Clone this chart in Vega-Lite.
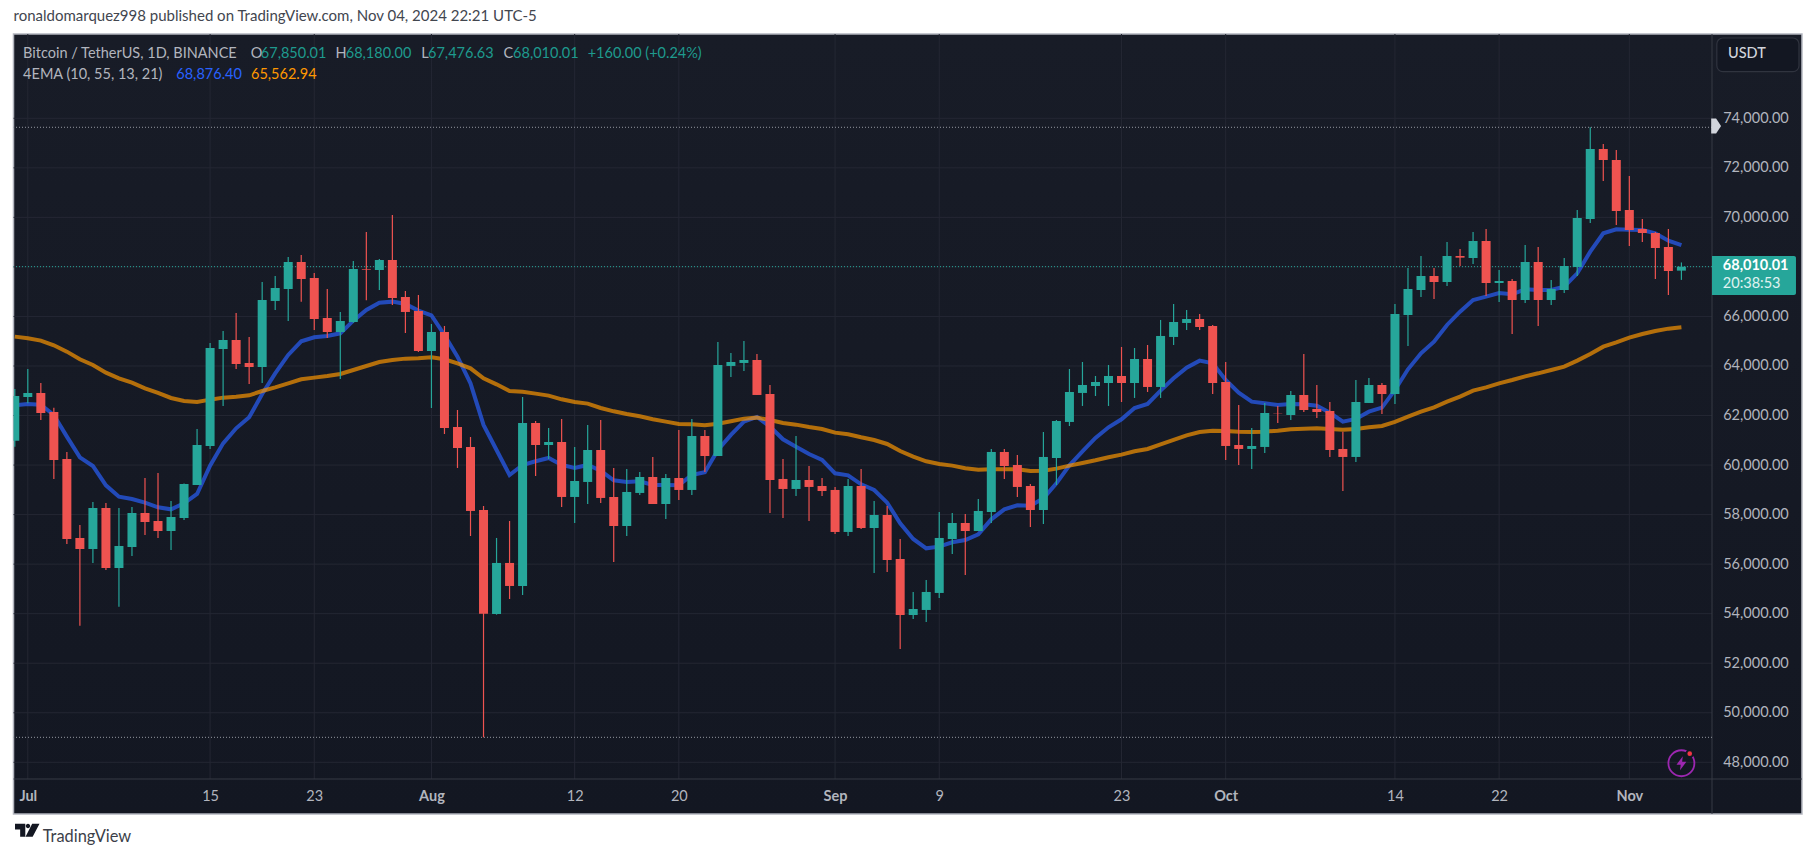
{
  "$schema": "https://vega.github.io/schema/vega-lite/v6.json",
  "width": 1698.5,
  "height": 745,
  "autosize": "none",
  "padding": {"left": 13.5, "top": 34, "right": 103, "bottom": 79},
  "background": "#ffffff",
  "config": {"view": {"stroke": null}, "text": {"font": "Lato"}},
  "title": {"text": "ronaldomarquez998 published on TradingView.com, Nov 04, 2024 22:21 UTC-5", "anchor": "start", "frame": "group", "offset": 9, "font": "Lato", "fontSize": 15, "fontWeight": "normal", "color": "#42464f"},
  "datasets": {
    "candles": [
      {"date":"2024-06-30","open":60986,"high":63072,"low":60744,"close":62789,"ema10":62413,"ema55":65185},
      {"date":"2024-07-01","open":62749,"high":63879,"low":62493,"close":62910,"ema10":62466,"ema55":65117},
      {"date":"2024-07-02","open":62910,"high":63314,"low":61820,"close":62103,"ema10":62440,"ema55":65023},
      {"date":"2024-07-03","open":62143,"high":62318,"low":59439,"close":60206,"ema10":62022,"ema55":64835},
      {"date":"2024-07-04","open":60246,"high":60529,"low":56814,"close":57016,"ema10":61148,"ema55":64579},
      {"date":"2024-07-05","open":57057,"high":57581,"low":53517,"close":56613,"ema10":60313,"ema55":64270},
      {"date":"2024-07-06","open":56613,"high":58510,"low":56047,"close":58268,"ema10":59963,"ema55":64041},
      {"date":"2024-07-07","open":58268,"high":58470,"low":55765,"close":55846,"ema10":59183,"ema55":63731},
      {"date":"2024-07-08","open":55846,"high":58268,"low":54284,"close":56734,"ema10":58725,"ema55":63503},
      {"date":"2024-07-09","open":56693,"high":58308,"low":56330,"close":58066,"ema10":58631,"ema55":63328},
      {"date":"2024-07-10","open":58066,"high":59479,"low":57178,"close":57703,"ema10":58483,"ema55":63099},
      {"date":"2024-07-11","open":57743,"high":59681,"low":57057,"close":57339,"ema10":58295,"ema55":62911},
      {"date":"2024-07-12","open":57339,"high":58550,"low":56572,"close":57904,"ema10":58214,"ema55":62709},
      {"date":"2024-07-13","open":57864,"high":59260,"low":57783,"close":59237,"ema10":58456,"ema55":62588},
      {"date":"2024-07-14","open":59196,"high":61457,"low":59196,"close":60811,"ema10":58833,"ema55":62547},
      {"date":"2024-07-15","open":60771,"high":64929,"low":60650,"close":64727,"ema10":59977,"ema55":62641},
      {"date":"2024-07-16","open":64687,"high":65414,"low":62386,"close":65050,"ema10":60878,"ema55":62722},
      {"date":"2024-07-17","open":65050,"high":66140,"low":63879,"close":64081,"ema10":61484,"ema55":62762},
      {"date":"2024-07-18","open":64122,"high":65171,"low":63274,"close":63960,"ema10":61928,"ema55":62816},
      {"date":"2024-07-19","open":63960,"high":67392,"low":63314,"close":66665,"ema10":62870,"ema55":62991},
      {"date":"2024-07-20","open":66625,"high":67634,"low":66261,"close":67149,"ema10":63704,"ema55":63139},
      {"date":"2024-07-21","open":67109,"high":68401,"low":65817,"close":68199,"ema10":64445,"ema55":63301},
      {"date":"2024-07-22","open":68199,"high":68481,"low":66598,"close":67512,"ema10":64996,"ema55":63462},
      {"date":"2024-07-23","open":67553,"high":67755,"low":65454,"close":65898,"ema10":65158,"ema55":63530},
      {"date":"2024-07-24","open":65938,"high":67109,"low":65131,"close":65373,"ema10":65212,"ema55":63597},
      {"date":"2024-07-25","open":65373,"high":66181,"low":63476,"close":65817,"ema10":65319,"ema55":63678},
      {"date":"2024-07-26","open":65777,"high":68239,"low":65750,"close":67916,"ema10":65831,"ema55":63839},
      {"date":"2024-07-27","open":67916,"high":69410,"low":66650,"close":67890,"ema10":66261,"ema55":64001},
      {"date":"2024-07-28","open":67876,"high":68320,"low":67068,"close":68280,"ema10":66557,"ema55":64162},
      {"date":"2024-07-29","open":68280,"high":70096,"low":66463,"close":66745,"ema10":66598,"ema55":64243},
      {"date":"2024-07-30","open":66786,"high":67028,"low":65333,"close":66181,"ema10":66504,"ema55":64297},
      {"date":"2024-07-31","open":66221,"high":66867,"low":64566,"close":64606,"ema10":66234,"ema55":64310},
      {"date":"2024-08-01","open":64606,"high":65696,"low":62305,"close":65373,"ema10":66046,"ema55":64350},
      {"date":"2024-08-02","open":65373,"high":65615,"low":61255,"close":61497,"ema10":65252,"ema55":64270},
      {"date":"2024-08-03","open":61538,"high":62224,"low":59883,"close":60690,"ema10":64377,"ema55":64108},
      {"date":"2024-08-04","open":60730,"high":61134,"low":57137,"close":58147,"ema10":63301,"ema55":63906},
      {"date":"2024-08-05","open":58187,"high":58348,"low":49009,"close":53998,"ema10":61619,"ema55":63503},
      {"date":"2024-08-06","open":53988,"high":57057,"low":53960,"close":56048,"ema10":60609,"ema55":63260},
      {"date":"2024-08-07","open":56048,"high":57743,"low":54594,"close":55119,"ema10":59600,"ema55":62991},
      {"date":"2024-08-08","open":55119,"high":62749,"low":54755,"close":61699,"ema10":60004,"ema55":62964},
      {"date":"2024-08-09","open":61699,"high":61780,"low":59560,"close":60811,"ema10":60152,"ema55":62884},
      {"date":"2024-08-10","open":60811,"high":61497,"low":60246,"close":60932,"ema10":60286,"ema55":62803},
      {"date":"2024-08-11","open":60932,"high":61861,"low":58308,"close":58712,"ema10":60004,"ema55":62655},
      {"date":"2024-08-12","open":58712,"high":60730,"low":57662,"close":59358,"ema10":59883,"ema55":62547},
      {"date":"2024-08-13","open":59318,"high":61618,"low":58430,"close":60609,"ema10":60004,"ema55":62480},
      {"date":"2024-08-14","open":60609,"high":61820,"low":58470,"close":58672,"ema10":59775,"ema55":62305},
      {"date":"2024-08-15","open":58712,"high":59883,"low":56088,"close":57541,"ema10":59385,"ema55":62170},
      {"date":"2024-08-16","open":57541,"high":59842,"low":57137,"close":58914,"ema10":59318,"ema55":62063},
      {"date":"2024-08-17","open":58874,"high":59721,"low":58793,"close":59519,"ema10":59344,"ema55":61969},
      {"date":"2024-08-18","open":59519,"high":60327,"low":58429,"close":58429,"ema10":59196,"ema55":61847},
      {"date":"2024-08-19","open":58429,"high":59641,"low":57824,"close":59479,"ema10":59196,"ema55":61753},
      {"date":"2024-08-20","open":59479,"high":61417,"low":58591,"close":58995,"ema10":59183,"ema55":61659},
      {"date":"2024-08-21","open":58995,"high":61861,"low":58793,"close":61174,"ema10":59600,"ema55":61646},
      {"date":"2024-08-22","open":61174,"high":61417,"low":59721,"close":60367,"ema10":59708,"ema55":61605},
      {"date":"2024-08-23","open":60367,"high":64969,"low":60367,"close":64041,"ema10":60609,"ema55":61672},
      {"date":"2024-08-24","open":64001,"high":64525,"low":63556,"close":64162,"ema10":61215,"ema55":61767},
      {"date":"2024-08-25","open":64122,"high":65010,"low":63799,"close":64243,"ema10":61753,"ema55":61874},
      {"date":"2024-08-26","open":64243,"high":64485,"low":62830,"close":62830,"ema10":61942,"ema55":61915},
      {"date":"2024-08-27","open":62870,"high":63233,"low":58066,"close":59398,"ema10":61551,"ema55":61820},
      {"date":"2024-08-28","open":59439,"high":60246,"low":57864,"close":59035,"ema10":61040,"ema55":61699},
      {"date":"2024-08-29","open":59035,"high":61174,"low":58752,"close":59398,"ema10":60744,"ema55":61632},
      {"date":"2024-08-30","open":59398,"high":59963,"low":57743,"close":59116,"ema10":60448,"ema55":61538},
      {"date":"2024-08-31","open":59156,"high":59479,"low":58752,"close":58954,"ema10":60206,"ema55":61457},
      {"date":"2024-09-01","open":58995,"high":59116,"low":57218,"close":57299,"ema10":59667,"ema55":61309},
      {"date":"2024-09-02","open":57299,"high":59439,"low":57137,"close":59156,"ema10":59587,"ema55":61242},
      {"date":"2024-09-03","open":59156,"high":59842,"low":57420,"close":57460,"ema10":59223,"ema55":61121},
      {"date":"2024-09-04","open":57460,"high":58550,"low":55644,"close":57985,"ema10":58995,"ema55":61013},
      {"date":"2024-09-05","open":57985,"high":58348,"low":55684,"close":56168,"ema10":58483,"ema55":60852},
      {"date":"2024-09-06","open":56209,"high":57017,"low":52576,"close":53948,"ema10":57649,"ema55":60569},
      {"date":"2024-09-07","open":53948,"high":54877,"low":53787,"close":54190,"ema10":57016,"ema55":60340},
      {"date":"2024-09-08","open":54150,"high":55361,"low":53666,"close":54877,"ema10":56640,"ema55":60152},
      {"date":"2024-09-09","open":54837,"high":58107,"low":54635,"close":57057,"ema10":56707,"ema55":60044},
      {"date":"2024-09-10","open":57016,"high":58066,"low":56410,"close":57662,"ema10":56882,"ema55":59977},
      {"date":"2024-09-11","open":57662,"high":58026,"low":55563,"close":57339,"ema10":56976,"ema55":59869},
      {"date":"2024-09-12","open":57339,"high":58631,"low":57339,"close":58147,"ema10":57205,"ema55":59815},
      {"date":"2024-09-13","open":58106,"high":60650,"low":57662,"close":60529,"ema10":57810,"ema55":59829},
      {"date":"2024-09-14","open":60529,"high":60650,"low":59439,"close":59963,"ema10":58214,"ema55":59829},
      {"date":"2024-09-15","open":60004,"high":60407,"low":58712,"close":59116,"ema10":58375,"ema55":59829},
      {"date":"2024-09-16","open":59156,"high":59237,"low":57501,"close":58187,"ema10":58362,"ema55":59762},
      {"date":"2024-09-17","open":58187,"high":61336,"low":57622,"close":60327,"ema10":58658,"ema55":59775},
      {"date":"2024-09-18","open":60286,"high":61820,"low":59196,"close":61780,"ema10":59264,"ema55":59856},
      {"date":"2024-09-19","open":61740,"high":63879,"low":61578,"close":62951,"ema10":59990,"ema55":59977},
      {"date":"2024-09-20","open":62911,"high":64162,"low":62386,"close":63233,"ema10":60556,"ema55":60085},
      {"date":"2024-09-21","open":63193,"high":63597,"low":62789,"close":63354,"ema10":61094,"ema55":60192},
      {"date":"2024-09-22","open":63314,"high":64041,"low":62386,"close":63597,"ema10":61524,"ema55":60313},
      {"date":"2024-09-23","open":63597,"high":64768,"low":62547,"close":63314,"ema10":61847,"ema55":60421},
      {"date":"2024-09-24","open":63314,"high":64727,"low":62709,"close":64283,"ema10":62305,"ema55":60556},
      {"date":"2024-09-25","open":64283,"high":64848,"low":62951,"close":63153,"ema10":62466,"ema55":60650},
      {"date":"2024-09-26","open":63153,"high":65858,"low":62709,"close":65212,"ema10":63005,"ema55":60838},
      {"date":"2024-09-27","open":65172,"high":66504,"low":64848,"close":65777,"ema10":63503,"ema55":61013},
      {"date":"2024-09-28","open":65737,"high":66261,"low":65454,"close":65898,"ema10":63933,"ema55":61201},
      {"date":"2024-09-29","open":65898,"high":66100,"low":65454,"close":65575,"ema10":64216,"ema55":61336},
      {"date":"2024-09-30","open":65615,"high":65655,"low":62870,"close":63314,"ema10":64108,"ema55":61390},
      {"date":"2024-10-01","open":63354,"high":64162,"low":60206,"close":60771,"ema10":63435,"ema55":61376},
      {"date":"2024-10-02","open":60811,"high":62426,"low":60004,"close":60650,"ema10":62924,"ema55":61349},
      {"date":"2024-10-03","open":60650,"high":61497,"low":59842,"close":60771,"ema10":62561,"ema55":61336},
      {"date":"2024-10-04","open":60731,"high":62507,"low":60488,"close":62103,"ema10":62493,"ema55":61349},
      {"date":"2024-10-05","open":62103,"high":62386,"low":61699,"close":62090,"ema10":62426,"ema55":61390},
      {"date":"2024-10-06","open":62022,"high":62991,"low":61820,"close":62830,"ema10":62466,"ema55":61444},
      {"date":"2024-10-07","open":62830,"high":64485,"low":62143,"close":62224,"ema10":62453,"ema55":61471},
      {"date":"2024-10-08","open":62265,"high":63233,"low":61901,"close":62143,"ema10":62399,"ema55":61484},
      {"date":"2024-10-09","open":62184,"high":62547,"low":60327,"close":60609,"ema10":62117,"ema55":61457},
      {"date":"2024-10-10","open":60650,"high":61350,"low":58954,"close":60327,"ema10":61753,"ema55":61430},
      {"date":"2024-10-11","open":60327,"high":63435,"low":60125,"close":62547,"ema10":61861,"ema55":61457},
      {"date":"2024-10-12","open":62507,"high":63516,"low":62507,"close":63233,"ema10":62157,"ema55":61524},
      {"date":"2024-10-13","open":63233,"high":63314,"low":62063,"close":62870,"ema10":62318,"ema55":61578},
      {"date":"2024-10-14","open":62870,"high":66503,"low":62466,"close":66100,"ema10":63032,"ema55":61740},
      {"date":"2024-10-15","open":66059,"high":67957,"low":64808,"close":67109,"ema10":63866,"ema55":61955},
      {"date":"2024-10-16","open":67068,"high":68441,"low":66786,"close":67634,"ema10":64512,"ema55":62157},
      {"date":"2024-10-17","open":67634,"high":67957,"low":66705,"close":67391,"ema10":64983,"ema55":62332},
      {"date":"2024-10-18","open":67391,"high":69006,"low":67230,"close":68441,"ema10":65656,"ema55":62561},
      {"date":"2024-10-19","open":68441,"high":68724,"low":68037,"close":68374,"ema10":66194,"ema55":62762},
      {"date":"2024-10-20","open":68360,"high":69410,"low":68118,"close":69047,"ema10":66665,"ema55":63005},
      {"date":"2024-10-21","open":69047,"high":69531,"low":66826,"close":67351,"ema10":66800,"ema55":63139},
      {"date":"2024-10-22","open":67351,"high":67876,"low":66584,"close":67432,"ema10":66948,"ema55":63301},
      {"date":"2024-10-23","open":67432,"high":67512,"low":65292,"close":66665,"ema10":66894,"ema55":63435},
      {"date":"2024-10-24","open":66665,"high":68885,"low":66544,"close":68199,"ema10":67096,"ema55":63583},
      {"date":"2024-10-25","open":68199,"high":68804,"low":65615,"close":66665,"ema10":67069,"ema55":63704},
      {"date":"2024-10-26","open":66665,"high":67472,"low":66463,"close":67109,"ema10":67069,"ema55":63839},
      {"date":"2024-10-27","open":67068,"high":68360,"low":66947,"close":68037,"ema10":67203,"ema55":63974},
      {"date":"2024-10-28","open":67997,"high":70298,"low":67634,"close":69975,"ema10":67742,"ema55":64216},
      {"date":"2024-10-29","open":69935,"high":73636,"low":69773,"close":72761,"ema10":68616,"ema55":64485},
      {"date":"2024-10-30","open":72761,"high":72963,"low":71469,"close":72317,"ema10":69356,"ema55":64781},
      {"date":"2024-10-31","open":72317,"high":72720,"low":69693,"close":70258,"ema10":69518,"ema55":64956},
      {"date":"2024-11-01","open":70298,"high":71671,"low":68845,"close":69491,"ema10":69504,"ema55":65144},
      {"date":"2024-11-02","open":69531,"high":69935,"low":69006,"close":69370,"ema10":69491,"ema55":65292},
      {"date":"2024-11-03","open":69370,"high":69410,"low":67513,"close":68764,"ema10":69356,"ema55":65414},
      {"date":"2024-11-04","open":68804,"high":69531,"low":66867,"close":67835,"ema10":69060,"ema55":65508},
      {"date":"2024-11-05","open":67850,"high":68180,"low":67476,"close":68010,"ema10":68876,"ema55":65563}
    ],
    "frame": [
      {"left":"2024-06-29T21:38:00Z","plotRight":"2024-11-07T08:24:00Z","right":"2024-11-14T06:14:00Z","top":77403,"plotBottom":47326,"bottom":45915}
    ],
    "gridPrices": [
      {"price":48000},{"price":50000},{"price":52000},{"price":54000},{"price":56000},{"price":58000},{"price":60000},
      {"price":62000},{"price":64000},{"price":66000},{"price":68000},{"price":70000},{"price":72000},{"price":74000}
    ],
    "gridDates": [
      {"date":"2024-07-01"},{"date":"2024-07-15"},{"date":"2024-07-23"},{"date":"2024-08-01"},{"date":"2024-08-12"},
      {"date":"2024-08-20"},{"date":"2024-09-01"},{"date":"2024-09-09"},{"date":"2024-09-23"},{"date":"2024-10-01"},
      {"date":"2024-10-14"},{"date":"2024-10-22"},{"date":"2024-11-01"}
    ],
    "levels": [
      {"price":73637,"level":"high"},{"price":49009,"level":"low"},{"price":68010,"level":"last"}
    ],
    "headerText": [
      {"date":"2024-06-30T15:20:00Z","price":76596,"text":"Bitcoin / TetherUS, 1D, BINANCE","role":"label"},
      {"date":"2024-07-18T03:03:00Z","price":76596,"text":"O","role":"label"},
      {"date":"2024-07-18T21:30:00Z","price":76596,"text":"67,850.01","role":"up"},
      {"date":"2024-07-24T15:22:00Z","price":76596,"text":"H","role":"label"},
      {"date":"2024-07-25T10:00:00Z","price":76596,"text":"68,180.00","role":"up"},
      {"date":"2024-07-31T05:17:00Z","price":76596,"text":"L","role":"label"},
      {"date":"2024-07-31T17:45:00Z","price":76596,"text":"67,476.63","role":"up"},
      {"date":"2024-08-06T12:57:00Z","price":76596,"text":"C","role":"label"},
      {"date":"2024-08-07T06:29:00Z","price":76596,"text":"68,010.01","role":"up"},
      {"date":"2024-08-13T00:00:00Z","price":76596,"text":"+160.00 (+0.24%)","role":"up"},
      {"date":"2024-06-30T15:20:00Z","price":75748,"text":"4EMA (10, 55, 13, 21)","role":"label"},
      {"date":"2024-07-12T09:43:00Z","price":75748,"text":"68,876.40","role":"ema10"},
      {"date":"2024-07-18T03:23:00Z","price":75748,"text":"65,562.94","role":"ema55"}
    ]
  },
  "data": {"name": "candles"},
  "layer": [
    {
      "data": {"name": "frame"},
      "mark": {"type": "rect", "stroke": "#b2b5be", "strokeWidth": 1.5, "fill": {"gradient": "linear", "x1": 0, "y1": 0, "x2": 0, "y2": 1, "stops": [{"offset": 0, "color": "#181c27"}, {"offset": 1, "color": "#131722"}]}},
      "encoding": {
        "x": {"field": "left", "type": "temporal", "title": null, "scale": {"type": "utc", "padding": 0, "domain": ["2024-06-29T21:38:00Z", "2024-11-07T08:24:00Z"]}},
        "x2": {"field": "right"},
        "y": {"field": "top", "type": "quantitative", "title": null, "scale": {"domain": [47326, 77403], "nice": false, "zero": false}},
        "y2": {"field": "bottom"}
      }
    },
    {
      "data": {"name": "gridPrices"},
      "mark": {"type": "rule", "stroke": "#242733", "strokeWidth": 1},
      "encoding": {
        "y": {"field": "price", "type": "quantitative", "title": null, "scale": {"domain": [47326, 77403], "nice": false, "zero": false}}
      }
    },
    {
      "data": {"name": "gridDates"},
      "mark": {"type": "rule", "stroke": "#242733", "strokeWidth": 1},
      "encoding": {
        "x": {"field": "date", "type": "temporal", "title": null, "scale": {"type": "utc", "padding": 0, "domain": ["2024-06-29T21:38:00Z", "2024-11-07T08:24:00Z"]}}
      }
    },
    {
      "data": {"name": "frame"},
      "mark": {"type": "rule", "stroke": "#363a45", "strokeWidth": 1},
      "encoding": {
        "x": {"field": "plotRight", "type": "temporal", "title": null, "scale": {"type": "utc", "padding": 0, "domain": ["2024-06-29T21:38:00Z", "2024-11-07T08:24:00Z"]}},
        "y": {"field": "top", "type": "quantitative", "title": null, "scale": {"domain": [47326, 77403], "nice": false, "zero": false}},
        "y2": {"field": "bottom"}
      }
    },
    {
      "data": {"name": "frame"},
      "mark": {"type": "rule", "stroke": "#363a45", "strokeWidth": 1},
      "encoding": {
        "x": {"field": "left", "type": "temporal", "title": null, "scale": {"type": "utc", "padding": 0, "domain": ["2024-06-29T21:38:00Z", "2024-11-07T08:24:00Z"]}},
        "x2": {"field": "right"},
        "y": {"field": "plotBottom", "type": "quantitative", "title": null, "scale": {"domain": [47326, 77403], "nice": false, "zero": false}}
      }
    },
    {
      "data": {"name": "levels"},
      "mark": {"type": "rule", "strokeWidth": 1, "strokeDash": [1, 2]},
      "encoding": {
        "y": {"field": "price", "type": "quantitative", "title": null, "scale": {"domain": [47326, 77403], "nice": false, "zero": false}},
        "stroke": {"condition": {"test": "datum.level == 'last'", "value": "#26a69a"}, "value": "#9598a1"}
      }
    },
    {
      "mark": {"type": "line", "stroke": "#2962ff", "strokeWidth": 4, "opacity": 0.68, "clip": true},
      "encoding": {
        "x": {"field": "date", "type": "temporal", "title": null, "scale": {"type": "utc", "padding": 0, "domain": ["2024-06-29T21:38:00Z", "2024-11-07T08:24:00Z"]}},
        "y": {"field": "ema10", "type": "quantitative", "title": null, "scale": {"domain": [47326, 77403], "nice": false, "zero": false}}
      }
    },
    {
      "mark": {"type": "line", "stroke": "#ff9800", "strokeWidth": 4, "opacity": 0.68, "clip": true},
      "encoding": {
        "x": {"field": "date", "type": "temporal", "title": null, "scale": {"type": "utc", "padding": 0, "domain": ["2024-06-29T21:38:00Z", "2024-11-07T08:24:00Z"]}},
        "y": {"field": "ema55", "type": "quantitative", "title": null, "scale": {"domain": [47326, 77403], "nice": false, "zero": false}}
      }
    },
    {
      "mark": {"type": "rule", "strokeWidth": 1.2, "clip": true},
      "encoding": {
        "x": {"field": "date", "type": "temporal", "title": null, "scale": {"type": "utc", "padding": 0, "domain": ["2024-06-29T21:38:00Z", "2024-11-07T08:24:00Z"]}},
        "y": {"field": "low", "type": "quantitative", "title": null, "scale": {"domain": [47326, 77403], "nice": false, "zero": false}},
        "y2": {"field": "high"},
        "stroke": {"condition": {"test": "datum.open < datum.close", "value": "#26a69a"}, "value": "#ef5350"}
      }
    },
    {
      "mark": {"type": "bar", "size": 9, "clip": true},
      "encoding": {
        "x": {"field": "date", "type": "temporal", "title": null, "scale": {"type": "utc", "padding": 0, "domain": ["2024-06-29T21:38:00Z", "2024-11-07T08:24:00Z"]},
          "axis": {"orient": "bottom", "grid": false, "domain": false, "ticks": false, "zindex": 1, "labelPadding": 10, "labelFont": "Lato", "labelFontSize": 14.5, "labelColor": "#b2b5be", "labelOverlap": false, "labelFlush": false,
            "values": [{"year":2024,"month":7,"date":1,"utc":true},{"year":2024,"month":7,"date":15,"utc":true},{"year":2024,"month":7,"date":23,"utc":true},{"year":2024,"month":8,"date":1,"utc":true},{"year":2024,"month":8,"date":12,"utc":true},{"year":2024,"month":8,"date":20,"utc":true},{"year":2024,"month":9,"date":1,"utc":true},{"year":2024,"month":9,"date":9,"utc":true},{"year":2024,"month":9,"date":23,"utc":true},{"year":2024,"month":10,"date":1,"utc":true},{"year":2024,"month":10,"date":14,"utc":true},{"year":2024,"month":10,"date":22,"utc":true},{"year":2024,"month":11,"date":1,"utc":true}],
            "labelExpr": "utcdate(datum.value) == 1 ? utcFormat(datum.value, '%b') : utcFormat(datum.value, '%-d')",
            "labelFontWeight": {"condition": {"test": "utcdate(datum.value) == 1", "value": "bold"}, "value": "normal"}}},
        "y": {"field": "open", "type": "quantitative", "title": null, "scale": {"domain": [47326, 77403], "nice": false, "zero": false},
          "axis": {"orient": "right", "grid": false, "domain": false, "ticks": false, "zindex": 1, "labelPadding": 10.7, "labelFont": "Lato", "labelFontSize": 14.5, "labelColor": "#b2b5be", "format": ",.2f", "values": [48000, 50000, 52000, 54000, 56000, 58000, 60000, 62000, 64000, 66000, 70000, 72000, 74000]}},
        "y2": {"field": "close"},
        "fill": {"condition": {"test": "datum.open < datum.close", "value": "#26a69a"}, "value": "#ef5350"}
      }
    },
    {
      "data": {"name": "headerText"},
      "mark": {"type": "text", "align": "left", "baseline": "middle", "font": "Lato", "fontSize": 14.5},
      "encoding": {
        "x": {"field": "date", "type": "temporal", "title": null, "scale": {"type": "utc", "padding": 0, "domain": ["2024-06-29T21:38:00Z", "2024-11-07T08:24:00Z"]}},
        "y": {"field": "price", "type": "quantitative", "title": null, "scale": {"domain": [47326, 77403], "nice": false, "zero": false}},
        "text": {"field": "text"},
        "color": {"field": "role", "type": "nominal", "legend": null, "scale": {"domain": ["label", "up", "ema10", "ema55"], "range": ["#b2b5be", "#1e9a8e", "#2962ff", "#ff9800"]}}
      }
    },
    {
      "data": {"values": [{"from": "2024-11-07T08:24:00Z", "to": "2024-11-13T19:12:00Z", "top": 68441, "bottom": 66867}]},
      "mark": {"type": "rect", "fill": "#26a69a", "cornerRadiusTopRight": 2, "cornerRadiusBottomRight": 2},
      "encoding": {
        "x": {"field": "from", "type": "temporal", "title": null, "scale": {"type": "utc", "padding": 0, "domain": ["2024-06-29T21:38:00Z", "2024-11-07T08:24:00Z"]}},
        "x2": {"field": "to"},
        "y": {"field": "top", "type": "quantitative", "title": null, "scale": {"domain": [47326, 77403], "nice": false, "zero": false}},
        "y2": {"field": "bottom"}
      }
    },
    {
      "data": {"values": [{"date": "2024-11-08T04:19:00Z", "price": 68049, "text": "68,010.01"}]},
      "mark": {"type": "text", "align": "left", "baseline": "middle", "font": "Lato", "fontSize": 14.5, "fontWeight": "bold", "fill": "#ffffff"},
      "encoding": {
        "x": {"field": "date", "type": "temporal", "title": null, "scale": {"type": "utc", "padding": 0, "domain": ["2024-06-29T21:38:00Z", "2024-11-07T08:24:00Z"]}},
        "y": {"field": "price", "type": "quantitative", "title": null, "scale": {"domain": [47326, 77403], "nice": false, "zero": false}},
        "text": {"field": "text"}
      }
    },
    {
      "data": {"values": [{"date": "2024-11-08T04:19:00Z", "price": 67322, "text": "20:38:53"}]},
      "mark": {"type": "text", "align": "left", "baseline": "middle", "font": "Lato", "fontSize": 14.5, "fill": "#e0f2f1"},
      "encoding": {
        "x": {"field": "date", "type": "temporal", "title": null, "scale": {"type": "utc", "padding": 0, "domain": ["2024-06-29T21:38:00Z", "2024-11-07T08:24:00Z"]}},
        "y": {"field": "price", "type": "quantitative", "title": null, "scale": {"domain": [47326, 77403], "nice": false, "zero": false}},
        "text": {"field": "text"}
      }
    },
    {
      "data": {"values": [{"from": "2024-11-07T17:17:00Z", "to": "2024-11-14T00:43:00Z", "top": 77242, "bottom": 75881}]},
      "mark": {"type": "rect", "fill": "#131722", "stroke": "#30343f", "strokeWidth": 1.2, "cornerRadius": 6},
      "encoding": {
        "x": {"field": "from", "type": "temporal", "title": null, "scale": {"type": "utc", "padding": 0, "domain": ["2024-06-29T21:38:00Z", "2024-11-07T08:24:00Z"]}},
        "x2": {"field": "to"},
        "y": {"field": "top", "type": "quantitative", "title": null, "scale": {"domain": [47326, 77403], "nice": false, "zero": false}},
        "y2": {"field": "bottom"}
      }
    },
    {
      "data": {"values": [{"date": "2024-11-08T13:55:00Z", "price": 76596, "text": "USDT"}]},
      "mark": {"type": "text", "align": "left", "baseline": "middle", "font": "Lato", "fontSize": 14.5, "fontWeight": 500, "fill": "#d1d4dc"},
      "encoding": {
        "x": {"field": "date", "type": "temporal", "title": null, "scale": {"type": "utc", "padding": 0, "domain": ["2024-06-29T21:38:00Z", "2024-11-07T08:24:00Z"]}},
        "y": {"field": "price", "type": "quantitative", "title": null, "scale": {"domain": [47326, 77403], "nice": false, "zero": false}},
        "text": {"field": "text"}
      }
    },
    {
      "data": {"values": [{"date": "2024-11-07T16:00:00Z", "price": 73689}]},
      "mark": {"type": "point", "shape": "M-0.33,-0.5 L0,-0.5 L0.33,0 L0,0.5 L-0.33,0.5 Z", "size": 900, "filled": true, "fill": "#d1d4dc", "opacity": 1},
      "encoding": {
        "x": {"field": "date", "type": "temporal", "title": null, "scale": {"type": "utc", "padding": 0, "domain": ["2024-06-29T21:38:00Z", "2024-11-07T08:24:00Z"]}},
        "y": {"field": "price", "type": "quantitative", "title": null, "scale": {"domain": [47326, 77403], "nice": false, "zero": false}}
      }
    },
    {
      "data": {"values": [{"date": "2024-07-02T03:28:00Z", "price": 44784, "text": "TradingView"}]},
      "mark": {"type": "text", "align": "left", "baseline": "alphabetic", "font": "Lato", "fontSize": 16.4, "fill": "#3c3f49"},
      "encoding": {
        "x": {"field": "date", "type": "temporal", "title": null, "scale": {"type": "utc", "padding": 0, "domain": ["2024-06-29T21:38:00Z", "2024-11-07T08:24:00Z"]}},
        "y": {"field": "price", "type": "quantitative", "title": null, "scale": {"domain": [47326, 77403], "nice": false, "zero": false}},
        "text": {"field": "text"}
      }
    },
    {
      "data": {"values": [{"date": "2024-06-30T23:00:00Z", "price": 45260}]},
      "mark": {"type": "point", "shape": "M-0.5,-0.265 L-0.08,-0.265 L-0.08,0.265 L-0.29,0.265 L-0.29,-0.03 L-0.5,-0.03 Z M-0.06,-0.17 A0.09,0.09 0 1 1 0.12,-0.17 A0.09,0.09 0 1 1 -0.06,-0.17 Z M0.2,-0.265 L0.5,-0.265 L0.22,0.265 L-0.07,0.265 Z", "size": 2400, "filled": true, "fill": "#131722", "opacity": 1},
      "encoding": {
        "x": {"field": "date", "type": "temporal", "title": null, "scale": {"type": "utc", "padding": 0, "domain": ["2024-06-29T21:38:00Z", "2024-11-07T08:24:00Z"]}},
        "y": {"field": "price", "type": "quantitative", "title": null, "scale": {"domain": [47326, 77403], "nice": false, "zero": false}}
      }
    },
    {
      "data": {"values": [{"date": "2024-11-05", "price": 47961}]},
      "mark": {"type": "point", "shape": "circle", "size": 676, "filled": false, "stroke": "#9c27b0", "strokeWidth": 1.8, "opacity": 1},
      "encoding": {
        "x": {"field": "date", "type": "temporal", "title": null, "scale": {"type": "utc", "padding": 0, "domain": ["2024-06-29T21:38:00Z", "2024-11-07T08:24:00Z"]}},
        "y": {"field": "price", "type": "quantitative", "title": null, "scale": {"domain": [47326, 77403], "nice": false, "zero": false}}
      }
    },
    {
      "data": {"values": [{"date": "2024-11-05", "price": 47961}]},
      "mark": {"type": "point", "shape": "M0.1,-0.5 L-0.35,0.1 L-0.05,0.1 L-0.1,0.5 L0.35,-0.1 L0.05,-0.1 Z", "size": 784, "filled": true, "fill": "#9c27b0", "opacity": 1},
      "encoding": {
        "x": {"field": "date", "type": "temporal", "title": null, "scale": {"type": "utc", "padding": 0, "domain": ["2024-06-29T21:38:00Z", "2024-11-07T08:24:00Z"]}},
        "y": {"field": "price", "type": "quantitative", "title": null, "scale": {"domain": [47326, 77403], "nice": false, "zero": false}}
      }
    },
    {
      "data": {"values": [{"date": "2024-11-05T15:20:00Z", "price": 48349}]},
      "mark": {"type": "point", "shape": "circle", "size": 44, "filled": true, "fill": "#f23645", "stroke": "#131722", "strokeWidth": 2, "opacity": 1},
      "encoding": {
        "x": {"field": "date", "type": "temporal", "title": null, "scale": {"type": "utc", "padding": 0, "domain": ["2024-06-29T21:38:00Z", "2024-11-07T08:24:00Z"]}},
        "y": {"field": "price", "type": "quantitative", "title": null, "scale": {"domain": [47326, 77403], "nice": false, "zero": false}}
      }
    }
  ]
}
